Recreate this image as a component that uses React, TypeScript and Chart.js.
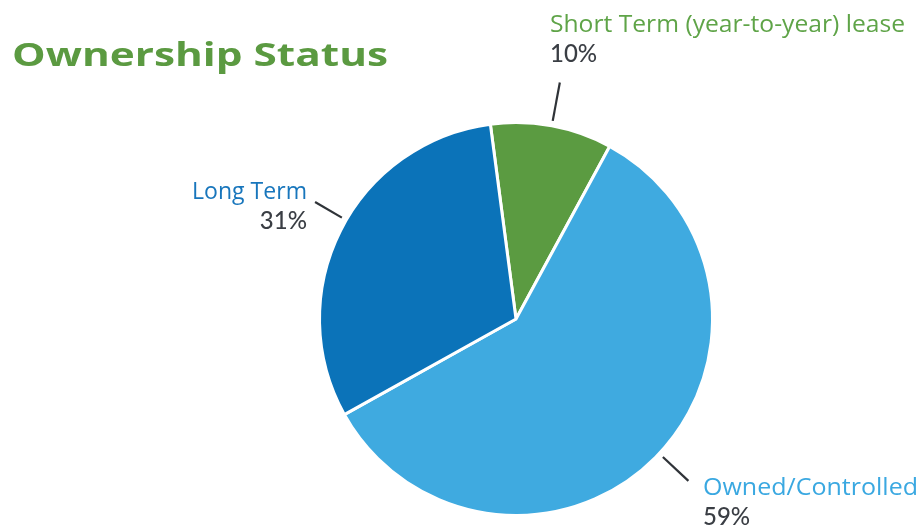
import React, { useEffect, useRef } from "react";
import { Chart, registerables } from "chart.js";

Chart.register(...registerables);

const TITLE = "Ownership Status";
const categories = ["Short Term (year-to-year) lease", "Owned/Controlled", "Long Term"];
const shares = [10, 59, 31];
const sliceColors = ["#5b9b41", "#3faae0", "#0b73b9"];
const labelColors = ["#5fa448", "#3aa8e1", "#1876bc"];

// layout of the callout texts (x, name baseline, align, target name width, leader tweak)
const labelLayout = [
  { x: 550, y: 32, align: "left", w: 355, dAng: 0, len: 44 },
  { x: 703, y: 495, align: "left", w: 215, dAng: -1.5, len: 40 },
  { x: 307, y: 199, align: "right", w: 115, dAng: 3.5, len: 36 },
];

const FONT = "'Open Sans', Lato, sans-serif";

function fitText(ctx: CanvasRenderingContext2D, text: string, x: number, y: number, targetW: number, font: string, color: string, align: CanvasTextAlign) {
  ctx.save();
  ctx.font = font;
  const w = ctx.measureText(text).width;
  const s = targetW / w;
  ctx.translate(x, y);
  ctx.scale(s, 1);
  ctx.fillStyle = color;
  ctx.textAlign = align;
  ctx.textBaseline = "alphabetic";
  ctx.fillText(text, 0, 0);
  ctx.restore();
}

const calloutPlugin = {
  id: "callouts",
  afterDraw(chart: any) {
    const ctx: CanvasRenderingContext2D = chart.ctx;
    const meta = chart.getDatasetMeta(0);
    fitText(ctx, TITLE, 12, 66, 376, `bold 33px ${FONT}`, "#5b9a41", "left");
    meta.data.forEach((arc: any, i: number) => {
      const p = arc.getProps(["x", "y", "startAngle", "endAngle", "outerRadius"], true);
      const L = labelLayout[i];
      const mid = (p.startAngle + p.endAngle) / 2 + (L.dAng * Math.PI) / 180;
      const r1 = p.outerRadius + 5;
      const r2 = p.outerRadius + L.len;
      ctx.save();
      ctx.strokeStyle = "#2f3338";
      ctx.lineWidth = 2.2;
      ctx.beginPath();
      ctx.moveTo(p.x + Math.cos(mid) * r1, p.y + Math.sin(mid) * r1);
      ctx.lineTo(p.x + Math.cos(mid) * r2, p.y + Math.sin(mid) * r2);
      ctx.stroke();
      ctx.restore();
      fitText(ctx, categories[i], L.x, L.y, L.w, `500 24px ${FONT}`, labelColors[i], L.align as CanvasTextAlign);
      ctx.save();
      ctx.font = `500 24px Lato, sans-serif`;
      ctx.fillStyle = "#3a3e44";
      ctx.textAlign = L.align as CanvasTextAlign;
      ctx.fillText(`${shares[i]}%`, L.x, L.y + 30);
      ctx.restore();
    });
  },
};

export default function App() {
  const ref = useRef<HTMLCanvasElement>(null);
  useEffect(() => {
    if (!ref.current) return;
    const chart = new Chart(ref.current, {
      type: "pie",
      data: {
        labels: categories,
        datasets: [
          {
            data: shares,
            backgroundColor: sliceColors,
            borderColor: "#ffffff",
            borderWidth: 3,
          },
        ],
      },
      options: {
        responsive: false,
        animation: false,
        devicePixelRatio: 1,
        rotation: -7.5,
        layout: { padding: { left: 318, right: 210, top: 120, bottom: 11 } },
        plugins: { legend: { display: false }, tooltip: { enabled: false } },
      },
      plugins: [calloutPlugin],
    });
    return () => chart.destroy();
  }, []);
  return (
    <div style={{ position: "absolute", left: 0, top: 0, width: 924, height: 529, background: "#fff" }}>
      <canvas ref={ref} width={924} height={529} />
    </div>
  );
}
